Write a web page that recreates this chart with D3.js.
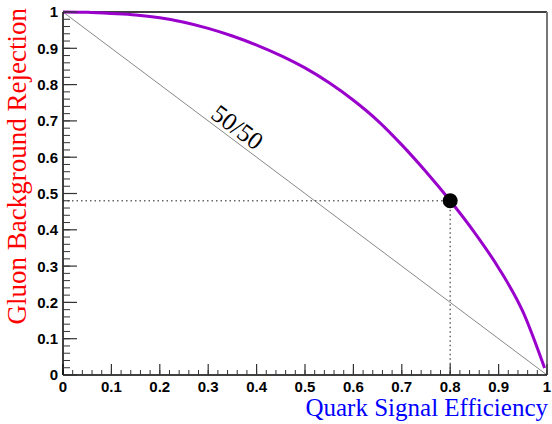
<!DOCTYPE html>
<html><head><meta charset="utf-8">
<script src="https://cdn.jsdelivr.net/npm/d3@7"></script>
<style>body{margin:0;background:#fff}svg{display:block}</style>
</head><body>
<svg id="c" width="552" height="424"></svg>
<script>
// Data
const efficiency = [0, 0.05, 0.1, 0.15, 0.2, 0.25, 0.3, 0.35, 0.4, 0.45, 0.5, 0.55, 0.6, 0.65, 0.7, 0.75, 0.8, 0.85, 0.9, 0.95, 0.995];
const rejection  = [1.0, 0.999, 0.996, 0.992, 0.984, 0.972, 0.955, 0.934, 0.909, 0.880, 0.846, 0.805, 0.757, 0.701, 0.634, 0.560, 0.480, 0.393, 0.295, 0.175, 0.019];
const workingPoint = [0.8, 0.48];
const diagonal = [[0, 1], [1, 0]];
const tickValues = [0, 0.1, 0.2, 0.3, 0.4, 0.5, 0.6, 0.7, 0.8, 0.9, 1];
const tickLabels = ["0", "0.1", "0.2", "0.3", "0.4", "0.5", "0.6", "0.7", "0.8", "0.9", "1"];
const xTitle = "Quark Signal Efficiency";
const yTitle = "Gluon Background Rejection";
const diagLabel = "50/50";

const svg = d3.select("#c");
const L = 63, R = 547, T = 12, B = 375;
const x = d3.scaleLinear().domain([0, 1]).range([L, R]);
const y = d3.scaleLinear().domain([0, 1]).range([B, T]);
const minor = d3.range(0, 1.0001, 0.02);

// frame top/right
svg.append("line").attr("x1", L).attr("x2", R).attr("y1", T).attr("y2", T).attr("stroke", "#000").attr("stroke-width", 1.5);
svg.append("line").attr("x1", R).attr("x2", R).attr("y1", T).attr("y2", B).attr("stroke", "#777").attr("stroke-width", 2);

// diagonal
svg.append("line")
  .attr("x1", x(diagonal[0][0])).attr("y1", y(diagonal[0][1]))
  .attr("x2", x(diagonal[1][0])).attr("y2", y(diagonal[1][1]))
  .attr("stroke", "#888").attr("stroke-width", 1);

// 50/50 label
const lx = 0.345, ang = Math.atan2(y(0) - y(1), x(1) - x(0)) * 180 / Math.PI;
svg.append("text")
  .attr("transform", `translate(${x(lx)},${y(1 - lx)}) rotate(${ang}) translate(0,-4)`)
  .attr("text-anchor", "middle")
  .attr("font-family", "Liberation Serif, Times New Roman, serif")
  .attr("font-size", 25).attr("fill", "#000").text(diagLabel);

// dotted lines
svg.append("line").attr("x1", x(0)).attr("x2", x(workingPoint[0]))
  .attr("y1", y(workingPoint[1])).attr("y2", y(workingPoint[1]))
  .attr("stroke", "#666").attr("stroke-width", 1.5).attr("stroke-dasharray", "1.5,3");
svg.append("line").attr("x1", x(workingPoint[0])).attr("x2", x(workingPoint[0]))
  .attr("y1", y(workingPoint[1])).attr("y2", y(0))
  .attr("stroke", "#666").attr("stroke-width", 1.5).attr("stroke-dasharray", "1.5,3");

// curve
const pts = efficiency.map((e, i) => [e, rejection[i]]);
svg.append("path").datum(pts)
  .attr("d", d3.line().x(d => x(d[0])).y(d => y(d[1])).curve(d3.curveMonotoneX))
  .attr("fill", "none").attr("stroke", "#9900cc").attr("stroke-width", 3);

// point
svg.append("circle").attr("cx", x(workingPoint[0])).attr("cy", y(workingPoint[1])).attr("r", 7.5).attr("fill", "#000");

// axes
const xAxis = svg.append("g");
xAxis.append("line").attr("x1", L).attr("x2", R).attr("y1", B).attr("y2", B).attr("stroke", "#000").attr("stroke-width", 1.5);
xAxis.selectAll(".mn").data(minor).enter().append("line")
  .attr("x1", d => x(d)).attr("x2", d => x(d)).attr("y1", B).attr("y2", B - 5)
  .attr("stroke", "#333").attr("stroke-width", 1);
xAxis.selectAll(".mj").data(tickValues).enter().append("line")
  .attr("x1", d => x(d)).attr("x2", d => x(d)).attr("y1", B).attr("y2", B - 11)
  .attr("stroke", "#333").attr("stroke-width", 1.2);
xAxis.selectAll(".lb").data(tickValues).enter().append("text")
  .attr("x", d => x(d)).attr("y", 392).attr("text-anchor", "middle")
  .attr("font-family", "Liberation Sans, Arial, sans-serif").attr("font-weight", "bold")
  .attr("font-size", 15).text((d, i) => tickLabels[i]);

const yAxis = svg.append("g");
yAxis.append("line").attr("x1", L).attr("x2", L).attr("y1", T).attr("y2", B).attr("stroke", "#000").attr("stroke-width", 1.5);
yAxis.selectAll(".mn").data(minor).enter().append("line")
  .attr("x1", L).attr("x2", L + 7).attr("y1", d => y(d)).attr("y2", d => y(d))
  .attr("stroke", "#333").attr("stroke-width", 1);
yAxis.selectAll(".mj").data(tickValues).enter().append("line")
  .attr("x1", L).attr("x2", L + 14).attr("y1", d => y(d)).attr("y2", d => y(d))
  .attr("stroke", "#333").attr("stroke-width", 1.2);
yAxis.selectAll(".lb").data(tickValues).enter().append("text")
  .attr("x", 58).attr("y", d => y(d)).attr("dy", "0.36em").attr("text-anchor", "end")
  .attr("font-family", "Liberation Sans, Arial, sans-serif").attr("font-weight", "bold")
  .attr("font-size", 15).text((d, i) => tickLabels[i]);

// titles
svg.append("text").attr("x", 548).attr("y", 416).attr("text-anchor", "end")
  .attr("font-family", "Liberation Serif, Times New Roman, serif")
  .attr("font-size", 25).attr("fill", "#0000ff").text(xTitle);
svg.append("text").attr("transform", "translate(26,8) rotate(-90)").attr("text-anchor", "end")
  .attr("font-family", "Liberation Serif, Times New Roman, serif")
  .attr("font-size", 27).attr("fill", "#ff0000").text(yTitle);
</script>
</body></html>
